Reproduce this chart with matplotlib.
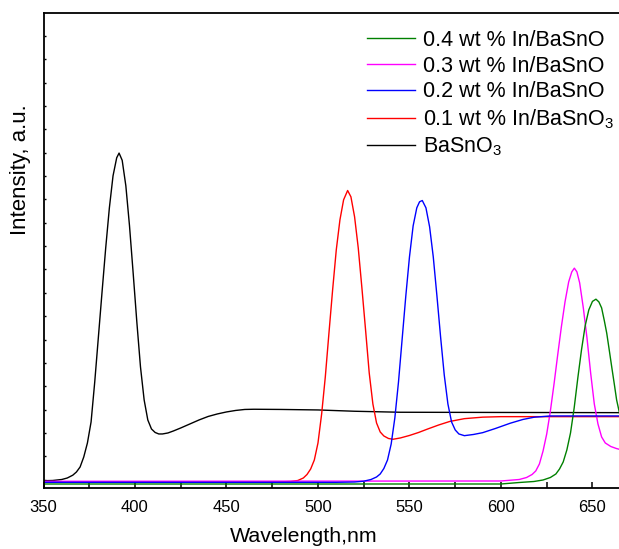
import numpy as np
import matplotlib
matplotlib.use("Agg")
import matplotlib.pyplot as plt
from matplotlib.ticker import MultipleLocator, FixedLocator, NullFormatter

# values (wavelength in nm, intensity in arbitrary units)
black_x = [350, 355, 360, 363, 366, 368, 370, 372, 374, 376, 378, 380, 382, 384, 386,
           388, 390, 391.3, 393, 395, 397, 399, 401, 403, 405, 407, 409, 411, 413,
           415, 418, 421, 425, 430, 435, 440, 445, 450, 455, 460, 465, 480, 500,
           520, 545, 600, 665]
black_y = [7.3, 7.5, 8.5, 10, 12.8, 16, 21, 31, 45, 66, 106, 151, 196, 240, 280,
           312, 330, 334.7, 327.5, 302, 262, 214.7, 166, 121, 88, 68, 59, 55.5, 54,
           54, 55, 57, 60, 64, 68, 71.5, 74, 76, 77.5, 78.5, 78.7, 78.5, 78,
           76.7, 75.7, 75.5, 75.3]

red_x = [350, 470, 480, 485, 489, 492, 494, 496, 498, 500, 502, 504, 506, 508, 510,
         512, 514, 516.2, 518, 520, 522, 524, 526, 528, 530, 532, 534, 536, 538.5,
         541, 545, 550, 555, 560, 566, 572, 580, 590, 600, 665]
red_y = [6, 6, 6.2, 6.5, 7.5, 10, 13.5, 19, 28, 45, 74, 111, 155, 198, 238,
         268, 288, 297.3, 291, 271, 240, 200, 158, 115, 84, 65, 56, 52, 49.5,
         48.7, 50, 52.5, 55.5, 59, 63, 66.5, 69.3, 70.8, 71.3, 71.3]

blue_x = [350, 510, 520, 525, 529, 532, 534, 536, 538, 540, 542, 544, 546, 548, 550,
          552, 554, 555.5, 557, 559, 561, 563, 565, 567, 569, 571, 573, 575, 577,
          580, 585, 590, 597, 605, 612, 618, 627, 665]
blue_y = [5.7, 5.7, 6, 6.8, 8.5, 11, 14, 19.5, 28, 44, 70, 106, 149, 192, 231,
          262, 280, 286, 287.3, 280, 261, 231, 192, 151, 113, 84, 66, 58, 54,
          52.3, 53.5, 55.3, 59.5, 64.7, 68.5, 70.7, 72, 72]

magenta_x = [350, 600, 610, 614, 617, 619, 621, 623, 625, 627, 629, 631, 633, 635,
             637, 638.7, 640.1, 641.5, 643, 645, 647, 649, 651, 653, 655, 657, 660,
             663, 665]
magenta_y = [6.7, 7, 8.5, 10.5, 13.5, 17, 24, 37, 54, 77, 104, 133, 161, 186,
             206, 216, 219.7, 216, 205, 180, 150, 115, 84, 64, 51, 45, 41.5,
             39.5, 38.5]

green_x = [350, 600, 610, 618, 623, 627, 630, 632, 634, 636, 638, 640, 642, 644, 646,
           648, 650, 651.9, 653.5, 655, 656.5, 657.8, 659, 660.5, 662, 663.2, 665]
green_y = [4, 4, 5.5, 6.5, 8, 10.5, 14, 19, 26, 38, 55, 80, 110, 138, 162,
           178, 186.5, 188.7, 186, 180, 167, 154.7, 140, 121.3, 103, 88, 73]

labels = ["0.4 wt % In/BaSnO", "0.3 wt % In/BaSnO", "0.2 wt % In/BaSnO",
          "0.1 wt % In/BaSnO$_3$", "BaSnO$_3$"]

plt.rcParams['font.family'] = ['Liberation Sans', 'DejaVu Sans']
plt.rcParams['mathtext.fontset'] = 'custom'
plt.rcParams['mathtext.rm'] = 'Liberation Sans'
plt.rcParams['mathtext.it'] = 'Liberation Sans'

fig = plt.figure(figsize=(6.19, 5.49), dpi=100)
ax = fig.add_axes([43.5 / 619, 61 / 549, (619 - 43.5) / 619, 475.3 / 549])

lw = 1.0
l_black, = ax.plot(black_x, black_y, color='black', lw=lw)
l_red, = ax.plot(red_x, red_y, color='#ff0000', lw=lw)
l_mag, = ax.plot(magenta_x, magenta_y, color='#ff00ff', lw=lw)
l_green, = ax.plot(green_x, green_y, color='#008000', lw=lw)
l_blue, = ax.plot(blue_x, blue_y, color='#0000ff', lw=lw)

ax.set_xlim(350, 664.5)
ax.set_ylim(0, 475)

ax.spines['right'].set_visible(False)
for s in ['left', 'bottom', 'top']:
    ax.spines[s].set_linewidth(1.3)

ax.xaxis.set_major_locator(MultipleLocator(50))
ax.xaxis.set_minor_locator(MultipleLocator(25))
ax.tick_params(axis='x', which='both', direction='in', length=4, width=1.1,
               labelsize=12, pad=9, top=False)
# y axis: only small inward ticks, no labels
ax.yaxis.set_major_locator(FixedLocator(np.arange(475 - 23.33, 0, -23.33)))
ax.yaxis.set_major_formatter(NullFormatter())
ax.tick_params(axis='y', which='both', direction='in', length=1.5, width=1.0, right=False)

ax.set_xlabel("Wavelength,nm", fontsize=15.4)
ax.xaxis.set_label_coords(0.453, -0.083)
ax.set_ylabel("Intensity, a.u.", fontsize=16)
ax.yaxis.set_label_coords(-0.022, 0.67)

ax.legend([l_green, l_mag, l_blue, l_red, l_black], labels,
          loc='upper left', bbox_to_anchor=(367 / 619, 1 - 30 / 549),
          bbox_transform=fig.transFigure, frameon=False, fontsize=15.5,
          borderpad=0, borderaxespad=0, handlelength=2.23, handletextpad=0.36,
          labelspacing=0.22)

fig.savefig("out.png", dpi=100)
